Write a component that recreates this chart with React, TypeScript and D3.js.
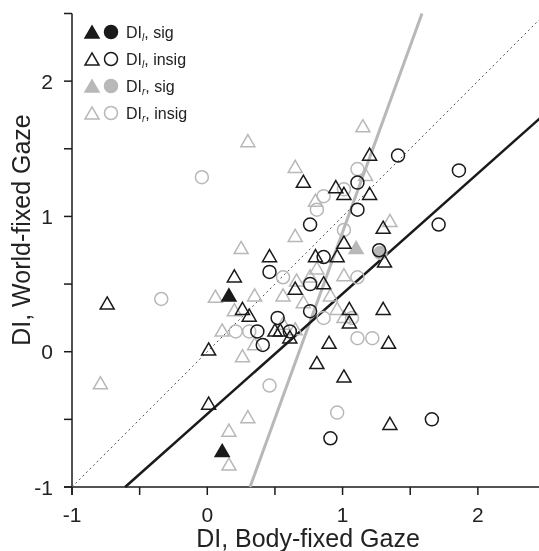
import { useEffect, useRef } from "react";
import * as d3 from "d3";

// DI, body-fixed (x) vs world-fixed (y) gaze
const dlSigTri = [
  [0.16, 0.42],
  [0.11, -0.73],
];
const dlSigCirc: number[][] = [];
const dlInsigTri = [
  [-0.74, 0.36], [0.01, -0.38], [0.01, 0.02], [0.71, 1.26], [1.2, 1.46],
  [0.95, 1.22], [1.01, 1.17], [1.2, 1.17], [1.3, 0.92], [1.01, 0.81],
  [1.31, 0.67], [0.46, 0.71], [0.8, 0.71], [0.96, 0.71], [0.2, 0.56],
  [0.86, 0.51], [0.65, 0.47], [0.26, 0.32], [0.31, 0.27], [1.05, 0.32],
  [1.3, 0.32], [1.05, 0.22], [0.5, 0.16], [0.54, 0.16], [0.61, 0.11],
  [0.9, 0.07], [1.34, 0.07], [0.81, -0.08], [1.01, -0.18], [1.35, -0.53],
];
const dlInsigCirc = [
  [1.41, 1.45], [1.11, 1.25], [1.11, 1.05], [0.76, 0.94], [1.86, 1.34],
  [1.71, 0.94], [1.27, 0.75], [0.86, 0.7], [0.46, 0.59], [0.76, 0.5],
  [0.76, 0.3], [0.52, 0.25], [0.37, 0.15], [0.61, 0.15], [0.41, 0.05],
  [0.91, -0.64], [1.66, -0.5],
];
const drSigTri = [[1.1, 0.77]];
const drSigCirc = [[1.28, 0.73]];
const drInsigTri = [
  [0.3, 1.56], [1.15, 1.67], [0.65, 1.37], [1.17, 1.31], [0.8, 1.12],
  [1.35, 0.97], [0.65, 0.86], [0.25, 0.77], [0.81, 0.62], [0.66, 0.53],
  [0.76, 0.56], [1.01, 0.57], [0.06, 0.41], [0.35, 0.42], [0.56, 0.42],
  [0.91, 0.42], [0.2, 0.31], [0.71, 0.37], [0.96, 0.32], [1.01, 0.26],
  [0.56, 0.21], [0.65, 0.17], [0.11, 0.16], [0.35, 0.06], [0.26, -0.03],
  [-0.79, -0.23], [0.3, -0.48], [0.16, -0.58], [0.16, -0.83],
];
const drInsigCirc = [
  [-0.04, 1.29], [-0.34, 0.39], [1.11, 1.35], [1.01, 1.2], [0.86, 1.15],
  [0.81, 1.05], [1.01, 0.9], [0.56, 0.55], [1.11, 0.55], [0.86, 0.25],
  [1.07, 0.25], [0.21, 0.15], [0.31, 0.15], [1.11, 0.1], [1.22, 0.1],
  [0.46, -0.25], [0.96, -0.45],
];

const unityLine = [[-1, -1], [2.5, 2.5]];
const blackFit = [[-0.607, -1], [2.5, 1.762]];
const grayFit = [[0.316, -1], [1.587, 2.5]];

const axisTicks = [-1, -0.5, 0, 0.5, 1, 1.5, 2, 2.5];
const tickLabels = [-1, 0, 1, 2];

const legendRows = [
  { sub: "l", label: ", sig" },
  { sub: "l", label: ", insig" },
  { sub: "r", label: ", sig" },
  { sub: "r", label: ", insig" },
];

const BLACK = "#1a1a1a";
const GRAY = "#b8b8b8";
const FONT = "'Liberation Sans', Arial, sans-serif";

const App = () => {
  const svgRef = useRef(null);

  useEffect(() => {
    const svg = d3.select(svgRef.current);
    svg.selectAll("*").remove();

    const x = d3.scaleLinear().domain([-1, 2.5]).range([72, 545.5]);
    const y = d3.scaleLinear().domain([-1, 2.5]).range([487, 13.5]);

    const line = d3
      .line()
      .x((d) => x(d[0]))
      .y((d) => y(d[1]));

    // axes
    const ax = svg.append("g").attr("stroke", BLACK).attr("stroke-width", 1.5);
    ax.append("line")
      .attr("x1", x(-1) - 8)
      .attr("x2", x(2.5))
      .attr("y1", y(-1))
      .attr("y2", y(-1));
    ax.append("line")
      .attr("x1", x(-1))
      .attr("x2", x(-1))
      .attr("y1", y(2.5))
      .attr("y2", y(-1) + 8);
    ax.selectAll(".xt")
      .data(axisTicks)
      .join("line")
      .attr("x1", (d) => x(d))
      .attr("x2", (d) => x(d))
      .attr("y1", y(-1))
      .attr("y2", y(-1) + 8);
    ax.selectAll(".yt")
      .data(axisTicks)
      .join("line")
      .attr("class", "yt")
      .attr("x1", x(-1) - 8)
      .attr("x2", x(-1))
      .attr("y1", (d) => y(d))
      .attr("y2", (d) => y(d));

    const txt = svg
      .append("g")
      .attr("font-family", FONT)
      .attr("fill", "#222");
    txt.selectAll(".xl")
      .data(tickLabels)
      .join("text")
      .attr("class", "xl")
      .attr("x", (d) => x(d))
      .attr("y", 522)
      .attr("text-anchor", "middle")
      .attr("font-size", 21)
      .text((d) => d);
    txt.selectAll(".yl")
      .data(tickLabels)
      .join("text")
      .attr("class", "yl")
      .attr("x", 53)
      .attr("y", (d) => y(d))
      .attr("dy", "0.36em")
      .attr("text-anchor", "end")
      .attr("font-size", 21)
      .text((d) => d);
    txt.append("text")
      .attr("x", 308)
      .attr("y", 547)
      .attr("text-anchor", "middle")
      .attr("font-size", 25)
      .text("DI, Body-fixed Gaze");
    txt.append("text")
      .attr("transform", "translate(30,230) rotate(-90)")
      .attr("text-anchor", "middle")
      .attr("font-size", 25)
      .text("DI, World-fixed Gaze");

    // reference + fit lines
    const lines = svg.append("g").attr("fill", "none");
    lines.append("path")
      .datum(grayFit)
      .attr("stroke", GRAY)
      .attr("stroke-width", 3)
      .attr("d", line);
    lines.append("path")
      .datum(unityLine)
      .attr("stroke", "#555")
      .attr("stroke-width", 1)
      .attr("stroke-dasharray", "2,3")
      .attr("d", line);
    lines.append("path")
      .datum(blackFit)
      .attr("stroke", BLACK)
      .attr("stroke-width", 2.5)
      .attr("d", line);

    const tri = d3.symbol().type(d3.symbolTriangle).size(85)();

    const drawTri = (data, color, filled) =>
      svg
        .append("g")
        .selectAll("path")
        .data(data)
        .join("path")
        .attr("d", tri)
        .attr("transform", (d) => `translate(${x(d[0])},${y(d[1]) + 2})`)
        .attr("fill", filled ? color : "none")
        .attr("stroke", color)
        .attr("stroke-width", 1.5);

    const drawCirc = (data, color, filled) =>
      svg
        .append("g")
        .selectAll("circle")
        .data(data)
        .join("circle")
        .attr("cx", (d) => x(d[0]))
        .attr("cy", (d) => y(d[1]))
        .attr("r", 6.5)
        .attr("fill", filled ? color : "none")
        .attr("stroke", color)
        .attr("stroke-width", 1.5);

    drawTri(drInsigTri, GRAY, false);
    drawCirc(drInsigCirc, GRAY, false);
    drawTri(drSigTri, GRAY, true);
    drawCirc(drSigCirc, GRAY, true);
    drawTri(dlInsigTri, BLACK, false);
    drawCirc(dlInsigCirc, BLACK, false);
    drawTri(dlSigTri, BLACK, true);
    drawCirc(dlSigCirc, BLACK, true);

    // legend
    const lg = svg.append("g").attr("font-family", FONT);
    legendRows.forEach((row, i) => {
      const cy = 32 + i * 27;
      const color = i < 2 ? BLACK : GRAY;
      const filled = i % 2 === 0;
      lg.append("path")
        .attr("d", tri)
        .attr("transform", `translate(92,${cy + 2})`)
        .attr("fill", filled ? color : "none")
        .attr("stroke", color)
        .attr("stroke-width", 1.5);
      lg.append("circle")
        .attr("cx", 111)
        .attr("cy", cy)
        .attr("r", 6.5)
        .attr("fill", filled ? color : "none")
        .attr("stroke", color)
        .attr("stroke-width", 1.5);
      const t = lg
        .append("text")
        .attr("x", 126)
        .attr("y", cy + 5.5)
        .attr("font-size", 16)
        .attr("fill", "#222");
      t.append("tspan").text("DI");
      t.append("tspan")
        .attr("font-size", 10)
        .attr("font-style", "italic")
        .attr("dy", 3)
        .text(row.sub);
      t.append("tspan").attr("dy", -3).text(row.label);
    });
  }, []);

  return (
    <div style={{ position: "fixed", left: 0, top: 0 }}>
      <svg ref={svgRef} width={539} height={551} style={{ display: "block" }} />
    </div>
  );
};

export default App;
